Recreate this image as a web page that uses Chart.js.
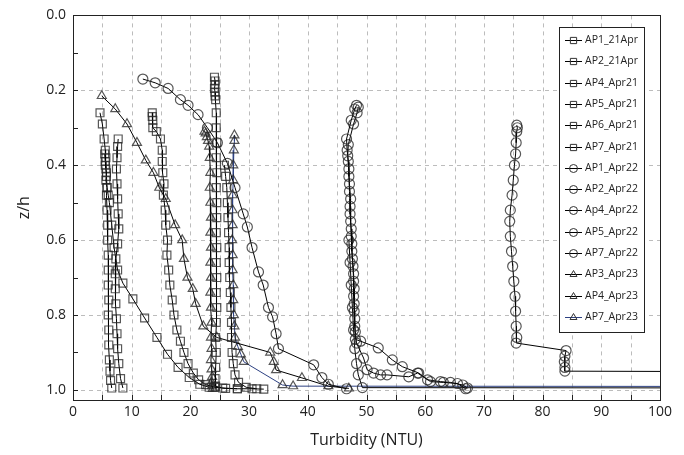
<!DOCTYPE html>
<html>
<head>
<meta charset="utf-8">
<script src="https://cdn.jsdelivr.net/npm/chart.js@4.4.0/dist/chart.umd.min.js"></script>
<style>
  body { margin: 0; background: #fff; }
</style>
</head>
<body>
<canvas id="grafico" width="684" height="455"></canvas>
<script>
// ticks
const xTicks = [0, 10, 20, 30, 40, 50, 60, 70, 80, 90, 100];
const xMinor = [5, 10, 15, 20, 25, 30, 35, 40, 45, 50, 55, 60, 65, 70, 75, 80, 85, 90, 95];
const zTicks = [0, 0.2, 0.4, 0.6, 0.8, 1.0];
const zMinor = [0.1, 0.2, 0.3, 0.4, 0.5, 0.6, 0.7, 0.8, 0.9, 1.0];

// 21 Apr (quadrados)
const ap1_21Apr_x = [4.6, 5.0, 5.3, 5.5, 5.6, 5.5, 5.7, 5.6, 5.8, 5.7, 5.8, 5.9, 5.9, 6.0, 6.0, 6.0, 6.1, 6.0, 6.1, 6.1, 6.2, 6.3, 6.4, 6.6];
const ap1_21Apr_z = [0.26, 0.29, 0.33, 0.36, 0.38, 0.40, 0.42, 0.44, 0.46, 0.48, 0.52, 0.56, 0.60, 0.64, 0.68, 0.72, 0.76, 0.80, 0.84, 0.88, 0.92, 0.95, 0.975, 0.995];

const ap2_21Apr_x = [7.7, 7.6, 7.5, 7.4, 7.5, 7.6, 7.7, 7.8, 7.6, 7.3, 7.2, 7.2, 7.3, 7.4, 7.5, 7.6, 7.8, 8.1, 8.5];
const ap2_21Apr_z = [0.33, 0.35, 0.38, 0.41, 0.45, 0.49, 0.53, 0.57, 0.61, 0.65, 0.69, 0.73, 0.77, 0.81, 0.85, 0.89, 0.93, 0.97, 0.995];

const ap4_Apr21_x = [5.4, 5.5, 5.6, 5.7, 5.8, 6.0, 6.2, 6.6, 7.0, 7.6, 8.5, 10.2, 12.2, 14.3, 16.1, 17.9, 19.8, 21.6, 23.2];
const ap4_Apr21_z = [0.37, 0.39, 0.41, 0.43, 0.46, 0.48, 0.50, 0.56, 0.62, 0.68, 0.715, 0.757, 0.808, 0.86, 0.905, 0.94, 0.967, 0.985, 0.993];

const ap5_Apr21_x = [13.5, 13.5, 13.6, 13.6, 14.2, 14.9, 15.2, 15.2, 15.3, 15.5, 15.4, 15.7, 15.8, 16.1, 16.0, 16.3, 16.5, 16.9, 17.2, 17.7, 18.3, 18.9, 19.6, 20.5, 21.4, 22.6, 24.2, 26.0, 28.0];
const ap5_Apr21_z = [0.26, 0.27, 0.28, 0.30, 0.31, 0.33, 0.36, 0.39, 0.42, 0.45, 0.48, 0.52, 0.56, 0.60, 0.64, 0.68, 0.72, 0.76, 0.80, 0.84, 0.87, 0.90, 0.93, 0.955, 0.973, 0.986, 0.993, 0.996, 0.997];

const ap6_Apr21_x = [24.1, 24.2, 24.2, 24.1, 24.2, 24.2, 24.3, 24.4, 24.4, 24.5, 24.4, 24.5, 24.4, 24.5, 24.5, 24.4, 24.5, 24.4, 24.5, 24.4, 24.5, 24.4, 24.3, 24.4, 24.3, 24.2, 24.3, 25.5, 28.0, 30.5, 32.5];
const ap6_Apr21_z = [0.165, 0.175, 0.185, 0.195, 0.205, 0.215, 0.225, 0.26, 0.30, 0.34, 0.38, 0.42, 0.46, 0.50, 0.54, 0.58, 0.62, 0.66, 0.70, 0.74, 0.78, 0.82, 0.86, 0.90, 0.94, 0.97, 0.99, 0.995, 0.997, 0.997, 0.998];

const ap7_Apr21_x = [25.8, 26.0, 26.2, 26.3, 26.4, 26.5, 26.6, 26.6, 26.7, 26.8, 26.9, 27.0, 27.0, 27.1, 27.3, 27.6, 28.2, 29.5, 31.3];
const ap7_Apr21_z = [0.40, 0.43, 0.46, 0.50, 0.54, 0.58, 0.62, 0.66, 0.70, 0.74, 0.78, 0.82, 0.86, 0.90, 0.93, 0.96, 0.98, 0.993, 0.997];

// Apr22 (circulos)
const ap1_Apr22_x = [11.9, 14.0, 16.2, 18.3, 19.6, 21.3, 22.9, 24.6, 26.3, 27.6, 29.0, 29.7, 30.5, 31.6, 32.4, 33.3, 34.0, 34.6, 35.0, 41.0, 42.4, 43.5, 46.6];
const ap1_Apr22_z = [0.17, 0.18, 0.195, 0.225, 0.24, 0.265, 0.30, 0.34, 0.395, 0.46, 0.53, 0.565, 0.62, 0.685, 0.72, 0.78, 0.805, 0.85, 0.89, 0.933, 0.967, 0.985, 0.997];

const ap2_Apr22_x = [48.3, 48.0, 47.4, 46.6, 46.7, 46.9, 47.0, 47.1, 47.2, 47.3, 47.4, 47.5, 47.7, 47.8, 47.8, 47.9, 48.0, 48.1, 49.0, 52.0, 54.4, 56.1, 58.9, 60.9, 63.1, 65.5, 66.9];
const ap2_Apr22_z = [0.24, 0.25, 0.28, 0.33, 0.36, 0.39, 0.43, 0.47, 0.51, 0.55, 0.59, 0.63, 0.67, 0.71, 0.75, 0.79, 0.83, 0.865, 0.87, 0.888, 0.92, 0.938, 0.955, 0.978, 0.98, 0.983, 0.997];

const ap4_Apr22_x = [48.6, 48.4, 47.8, 46.9, 46.8, 47.0, 47.1, 47.3, 47.2, 47.4, 47.5, 47.6, 47.8, 47.9, 47.9, 48.0, 48.1, 48.3, 49.5, 50.1, 51.2, 52.4, 53.5, 57.2, 58.7, 60.4, 62.6, 64.3, 66.4, 67.2];
const ap4_Apr22_z = [0.245, 0.26, 0.29, 0.345, 0.375, 0.41, 0.45, 0.49, 0.53, 0.57, 0.61, 0.65, 0.69, 0.73, 0.77, 0.81, 0.845, 0.875, 0.915, 0.946, 0.955, 0.96, 0.96, 0.965, 0.955, 0.973, 0.978, 0.98, 0.987, 0.995];

const ap5_Apr22_x = [47.0, 47.2, 47.4, 47.6, 47.8, 48.0, 48.3, 48.6, 49.3, 130];
const ap5_Apr22_z = [0.60, 0.66, 0.72, 0.78, 0.84, 0.89, 0.93, 0.96, 0.994, 0.995];

const ap7_Apr22_x = [75.6, 75.7, 75.6, 75.5, 75.4, 75.2, 75.0, 74.8, 74.5, 74.4, 74.5, 74.7, 74.9, 75.1, 75.3, 75.4, 75.5, 75.6, 75.5, 84.0, 83.8, 83.7, 83.8, 83.8, 130];
const ap7_Apr22_z = [0.293, 0.30, 0.31, 0.34, 0.37, 0.40, 0.44, 0.48, 0.52, 0.55, 0.59, 0.63, 0.67, 0.71, 0.75, 0.79, 0.83, 0.86, 0.875, 0.895, 0.91, 0.925, 0.94, 0.95, 0.952];

// Apr23 (triangulos)
const ap3_Apr23_x = [4.9, 7.2, 9.2, 10.9, 12.4, 13.7, 14.7, 15.8, 17.4, 18.6, 18.9, 19.5, 20.4, 20.9, 22.2, 24.5, 33.6, 34.2, 34.6, 39.0, 43.5, 47.0];
const ap3_Apr23_z = [0.215, 0.25, 0.29, 0.34, 0.387, 0.42, 0.46, 0.49, 0.56, 0.60, 0.65, 0.70, 0.73, 0.77, 0.83, 0.86, 0.90, 0.925, 0.947, 0.968, 0.99, 0.996];

const ap4_Apr23_x = [22.4, 22.6, 22.8, 23.0, 23.2, 23.3, 23.4, 23.3, 23.4, 23.5, 23.4, 23.5, 23.4, 23.5, 23.4, 23.5, 23.6, 23.5, 23.6, 23.5, 23.6, 23.7, 23.6, 23.7, 23.8];
const ap4_Apr23_z = [0.31, 0.315, 0.325, 0.335, 0.35, 0.38, 0.42, 0.46, 0.50, 0.54, 0.58, 0.62, 0.66, 0.70, 0.74, 0.78, 0.82, 0.86, 0.89, 0.92, 0.945, 0.965, 0.98, 0.99, 0.997];

const ap7_Apr23_x = [27.5, 27.5, 27.4, 27.3, 27.3, 27.2, 27.2, 27.2, 27.1, 27.2, 27.2, 27.3, 27.3, 27.4, 27.5, 27.6, 28.1, 28.6, 29.1, 35.7, 37.5, 130];
const ap7_Apr23_z = [0.32, 0.335, 0.36, 0.40, 0.44, 0.48, 0.52, 0.56, 0.60, 0.64, 0.68, 0.72, 0.76, 0.80, 0.83, 0.86, 0.885, 0.905, 0.925, 0.987, 0.99, 0.991];

const nomes = ['AP1_21Apr', 'AP2_21Apr', 'AP4_Apr21', 'AP5_Apr21', 'AP6_Apr21', 'AP7_Apr21',
  'AP1_Apr22', 'AP2_Apr22', 'Ap4_Apr22', 'AP5_Apr22', 'AP7_Apr22',
  'AP3_Apr23', 'AP4_Apr23', 'AP7_Apr23'];
const xs = [ap1_21Apr_x, ap2_21Apr_x, ap4_Apr21_x, ap5_Apr21_x, ap6_Apr21_x, ap7_Apr21_x,
  ap1_Apr22_x, ap2_Apr22_x, ap4_Apr22_x, ap5_Apr22_x, ap7_Apr22_x,
  ap3_Apr23_x, ap4_Apr23_x, ap7_Apr23_x];
const zs = [ap1_21Apr_z, ap2_21Apr_z, ap4_Apr21_z, ap5_Apr21_z, ap6_Apr21_z, ap7_Apr21_z,
  ap1_Apr22_z, ap2_Apr22_z, ap4_Apr22_z, ap5_Apr22_z, ap7_Apr22_z,
  ap3_Apr23_z, ap4_Apr23_z, ap7_Apr23_z];
const estilos = ['rect', 'rect', 'rect', 'rect', 'rect', 'rect',
  'circle', 'circle', 'circle', 'circle', 'circle',
  'triangle', 'triangle', 'triangle'];

const corMarcador = 'rgba(40,40,40,0.78)';

function raio(estilo) {
  if (estilo == 'rect') return 5.6;
  if (estilo == 'triangle') return 5.2;
  return 5;
}

const datasets = nomes.map(function (nome, i) {
  const pontos = xs[i].map(function (x, j) { return { x: x, y: zs[i][j] }; });
  return {
    label: nome,
    data: pontos,
    showLine: true,
    borderColor: nome == 'AP7_Apr23' ? 'rgb(45,65,130)' : '#000',
    borderWidth: 1,
    pointStyle: estilos[i],
    pointRadius: raio(estilos[i]),
    pointBorderColor: corMarcador,
    pointBackgroundColor: 'rgba(0,0,0,0)',
    pointBorderWidth: 1.2,
    tension: 0,
    clip: 0
  };
});

// grade tracejada
const grade = {
  id: 'grade',
  beforeDatasetsDraw(chart) {
    const ctx = chart.ctx;
    const a = chart.chartArea;
    const sx = chart.scales.x, sy = chart.scales.y;
    ctx.save();
    ctx.strokeStyle = '#bcbcbc';
    ctx.lineWidth = 1;
    ctx.setLineDash([4, 4]);
    xMinor.forEach(function (v) {
      const px = Math.round(sx.getPixelForValue(v)) + 0.5;
      ctx.beginPath(); ctx.moveTo(px, a.top); ctx.lineTo(px, a.bottom); ctx.stroke();
    });
    zTicks.forEach(function (v) {
      if (v == 0) return;
      const py = Math.round(sy.getPixelForValue(v)) + 0.5;
      ctx.beginPath(); ctx.moveTo(a.left, py); ctx.lineTo(a.right, py); ctx.stroke();
    });
    ctx.restore();
  },
  afterDraw(chart) {
    const ctx = chart.ctx;
    const a = chart.chartArea;
    const sx = chart.scales.x, sy = chart.scales.y;
    ctx.save();
    ctx.strokeStyle = '#222';
    ctx.lineWidth = 1;
    ctx.strokeRect(Math.round(a.left) + 0.5, Math.round(a.top) + 0.5, Math.round(a.right - a.left), Math.round(a.bottom - a.top));
    // ticks pra dentro
    xMinor.forEach(function (v) {
      const px = Math.round(sx.getPixelForValue(v)) + 0.5;
      ctx.beginPath(); ctx.moveTo(px, a.bottom); ctx.lineTo(px, a.bottom - 5); ctx.stroke();
    });
    zMinor.forEach(function (v) {
      const py = Math.round(sy.getPixelForValue(v)) + 0.5;
      ctx.beginPath(); ctx.moveTo(a.left, py); ctx.lineTo(a.left + 5, py); ctx.stroke();
    });

    // legenda
    const lx = 559.5, ly = 27.5, lw = 85, lh = 305;
    ctx.fillStyle = '#fff';
    ctx.fillRect(lx, ly, lw, lh);
    ctx.strokeRect(lx, ly, lw, lh);
    ctx.font = "10.5px 'Open Sans'";
    ctx.textBaseline = 'middle';
    chart.data.datasets.forEach(function (ds, i) {
      const y = Math.round(40 + i * 21.3) + 0.5;
      ctx.strokeStyle = ds.borderColor;
      ctx.lineWidth = 1;
      ctx.beginPath(); ctx.moveTo(565, y); ctx.lineTo(582, y); ctx.stroke();
      ctx.strokeStyle = '#333';
      ctx.fillStyle = 'rgba(0,0,0,0)';
      Chart.helpers.drawPoint(ctx, { pointStyle: ds.pointStyle, radius: ds.pointStyle == 'rect' ? 4.4 : 4, rotation: 0, borderWidth: 1 }, 573.5, y);
      ctx.fillStyle = '#222';
      ctx.fillText(ds.label, 585, y);
    });
    ctx.restore();
  }
};

Chart.defaults.font.family = "'Open Sans', sans-serif";
Chart.defaults.color = '#222';

const config = {
  type: 'scatter',
  data: { datasets: datasets },
  options: {
    responsive: false,
    animation: false,
    devicePixelRatio: 1,
    layout: { padding: { top: 15, right: 24, left: 0, bottom: 0 } },
    plugins: {
      legend: { display: false },
      tooltip: { enabled: false }
    },
    scales: {
      x: {
        type: 'linear',
        min: 0,
        max: 100,
        afterBuildTicks: function (s) { s.ticks = xTicks.map(function (v) { return { value: v }; }); },
        afterFit: function (s) { s.height = 55; },
        grid: { display: false, drawTicks: false },
        border: { display: false },
        ticks: { autoSkip: false, maxRotation: 0, padding: 4, font: { size: 14 } },
        title: { display: true, text: 'Turbidity (NTU)', font: { size: 16 }, padding: { top: 0, bottom: 5 } }
      },
      y: {
        type: 'linear',
        reverse: true,
        min: 0,
        max: 1.027,
        afterBuildTicks: function (s) { s.ticks = zTicks.map(function (v) { return { value: v }; }); },
        afterFit: function (s) { s.width = 73; },
        grid: { display: false, drawTicks: false },
        border: { display: false },
        ticks: { autoSkip: false, padding: 7, font: { size: 14 }, callback: function (v) { return Number(v).toFixed(1); } },
        title: { display: true, text: 'z/h', font: { size: 16 }, padding: { top: 15, bottom: 0 } }
      }
    }
  },
  plugins: [grade]
};

new Chart(document.getElementById('grafico'), config);
</script>
</body>
</html>
